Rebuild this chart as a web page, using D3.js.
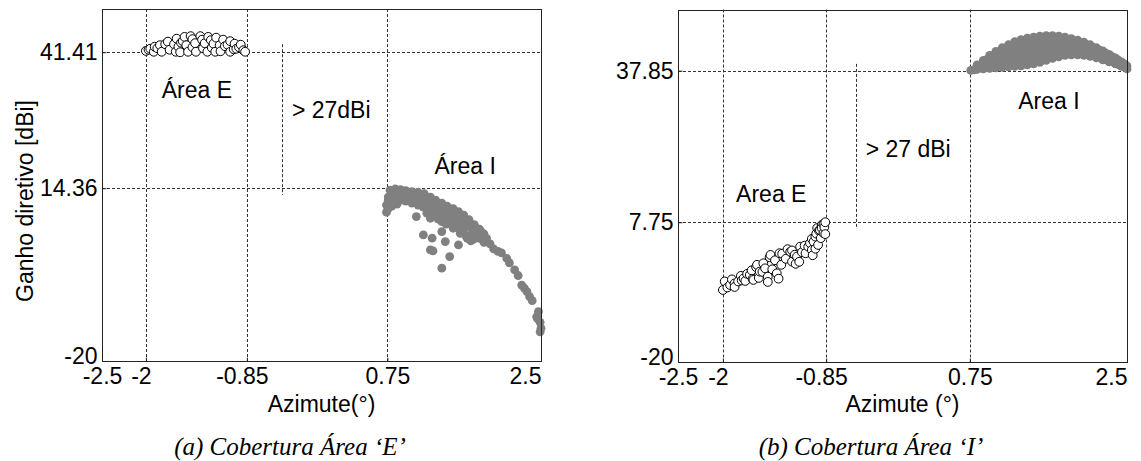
<!DOCTYPE html>
<html><head><meta charset="utf-8">
<script src="https://cdn.jsdelivr.net/npm/d3@7"></script>
<style>
body{margin:0;background:#fff}
svg{display:block}
text.sans{font-family:"Liberation Sans",Arial,Helvetica,sans-serif;fill:#000}
text.serif{font-family:"Liberation Serif","Times New Roman",serif;font-style:italic;fill:#000}
</style></head>
<body><svg id="c" width="1141" height="461"></svg>
<script>
// ---------- data ----------
const xDomain = [-2.5, 2.5];
const yDomain = [-20, 50];
const xTicks = [-2.5, -2, -0.85, 0.75, 2.5];
const xGrid = [-2, -0.85, 0.75];
const yTicksA = [-20, 14.36, 41.41];
const yTicksB = [-20, 7.75, 37.85];
const yGridA = [14.36, 41.41];
const yGridB = [7.75, 37.85];
// short dotted marker of the "> 27 dBi" gap: [x, yFrom, yTo]
const gapA = [-0.45, 13.0, 43.0];
const gapB = [-0.52, 6.4, 39.2];

// (a) Área E – open circles
const areaE_a = [
 [-2.00,41.67],[-1.97,41.9],[-1.95,42.1],[-1.91,41.5],[-1.90,42.5],[-1.87,42.2],[-1.84,42.8],[-1.82,41.5],
 [-1.78,43.0],[-1.75,43.5],[-1.73,41.9],[-1.68,43.0],[-1.66,41.5],[-1.65,44.1],[-1.63,42.5],[-1.61,41.4],
 [-1.60,43.3],[-1.58,43.6],[-1.56,44.45],[-1.54,42.8],[-1.52,41.5],[-1.49,44.6],[-1.47,44.0],[-1.47,42.4],
 [-1.44,43.2],[-1.43,41.5],[-1.38,44.6],[-1.36,43.9],[-1.35,42.2],[-1.33,43.2],[-1.30,41.5],[-1.29,44.45],
 [-1.26,43.8],[-1.25,42.3],[-1.23,43.1],[-1.21,41.5],[-1.20,44.3],[-1.16,42.8],[-1.15,41.6],[-1.12,43.9],
 [-1.10,42.6],[-1.07,42.9],[-1.04,41.5],[-1.04,43.6],[-1.00,42.0],[-0.99,43.1],[-0.97,42.1],[-0.94,42.4],
 [-0.92,42.9],[-0.89,41.8],[-0.87,41.5]
];
// (a) Área I – grey dots
const areaI_a = [
 [0.78,14.0],[0.84,14.2],[0.90,14.1],[0.96,13.9],[1.03,13.7],[1.10,13.6],[1.17,13.3],[1.24,12.6],[1.30,12.0],
 [1.37,11.4],[1.43,10.8],[1.50,10.3],[1.56,9.7],[1.62,9.0],[1.68,8.1],[1.74,7.1],[1.80,6.2],[1.85,5.3],
 [0.80,13.6],[0.86,13.8],[0.93,13.6],[1.00,13.3],[1.06,13.1],[1.13,12.8],[1.20,12.4],[1.27,11.9],[1.34,11.3],
 [1.41,10.6],[1.48,10.0],[1.55,9.3],[1.61,8.5],[1.68,7.6],[1.75,6.6],[1.82,5.7],
 [0.76,12.6],[0.81,13.2],[0.87,13.3],[0.93,13.1],[0.99,12.8],[1.05,12.5],[1.12,12.2],[1.18,11.8],[1.25,11.3],
 [1.32,10.7],[1.38,10.1],[1.45,9.5],[1.52,8.8],[1.58,8.0],[1.65,7.2],[1.72,6.3],[1.78,5.3],
 [0.76,11.9],[0.82,12.5],[0.88,12.7],[0.95,12.4],[1.01,12.1],[1.08,11.7],[1.14,11.3],[1.21,10.8],[1.28,10.2],
 [1.35,9.6],[1.42,9.0],[1.49,8.3],[1.57,7.4],[1.64,6.6],[1.72,5.6],[1.76,4.8],
 [0.74,11.0],[0.78,11.6],[0.84,12.0],[0.90,12.0],[0.96,11.8],[1.03,11.4],[1.10,11.0],[1.16,10.6],[1.23,10.0],
 [1.30,9.4],[1.38,8.7],[1.46,7.8],[1.54,6.9],[1.62,6.0],[1.70,5.0],
 [0.80,10.8],[0.86,11.2],[1.20,9.4],[1.27,8.9],[1.33,8.2],[1.42,7.2],[1.50,6.4],[1.58,5.4],[1.66,4.4],[1.73,4.2],[1.82,4.8],
 [0.74,9.6],[0.76,10.3],
 [1.08,8.72],[1.24,8.39],[1.37,7.72],[1.16,5.07],[1.26,4.42],[1.37,5.73],[1.24,2.09],[1.27,1.9],[1.41,3.74],
 [1.46,0.76],[1.37,-1.55],[1.56,3.09],[1.58,6.07],[1.65,4.74],[1.77,5.07],[1.70,3.9],
 [1.80,4.4],[1.85,3.6],[1.88,4.4],[1.92,3.3],[1.96,2.3],[2.01,1.8],[2.05,1.5],[2.11,0.4],[2.14,-0.5],[2.20,-1.9],
 [2.24,-3.0],[2.28,-4.9],[2.31,-5.5],[2.34,-6.2],[2.37,-7.2],[2.40,-8.0],[2.45,-11.2],[2.47,-10.2],[2.46,-11.6],
 [2.49,-12.3],[2.50,-13.5],[2.49,-14.2]
];
// (b) Área E – open circles
const areaE_b = [
 [-2.00,-5.7],[-1.98,-4.0],[-1.95,-5.2],[-1.92,-4.7],[-1.90,-3.6],[-1.87,-4.4],[-1.87,-5.1],[-1.83,-4.0],
 [-1.80,-2.9],[-1.79,-3.8],[-1.77,-3.4],[-1.75,-3.9],[-1.73,-2.5],[-1.70,-2.7],[-1.68,-1.8],[-1.67,-3.5],
 [-1.66,-3.7],[-1.63,-1.15],[-1.62,-0.7],[-1.60,-3.3],[-1.59,-2.05],[-1.56,-2.1],[-1.55,-0.4],[-1.53,-1.4],
 [-1.50,-3.05],[-1.50,-4.1],[-1.48,0.8],[-1.47,1.26],[-1.45,-1.6],[-1.42,0.2],[-1.40,-2.4],[-1.38,-3.45],
 [-1.37,1.6],[-1.35,-0.7],[-1.34,1.5],[-1.30,0.5],[-1.28,2.4],[-1.25,1.9],[-1.23,-0.07],[-1.23,2.15],
 [-1.20,1.3],[-1.19,-0.5],[-1.175,0.93],[-1.15,-0.1],[-1.14,2.9],[-1.12,1.8],[-1.09,3.1],[-1.08,1.6],
 [-1.05,2.9],[-1.03,3.6],[-1.01,2.25],[-1.01,4.45],[-1.00,1.2],[-0.99,3.9],[-0.97,2.5],[-0.97,4.9],
 [-0.96,5.5],[-0.95,6.6],[-0.94,3.25],[-0.93,6.1],[-0.92,6.2],[-0.91,4.6],[-0.90,7.2],[-0.90,6.6],
 [-0.88,5.6],[-0.88,7.4],[-0.87,6.8],[-0.86,5.4],[-0.86,7.75]
];
// (b) Área I – grey dots
const areaI_b = [
 [0.76,37.9],[0.83,39.0],[0.90,39.9],[0.97,40.9],[1.04,41.7],[1.11,42.4],[1.18,43.0],[1.25,43.6],[1.32,44.0],
 [1.39,44.3],[1.46,44.5],[1.53,44.7],[1.60,44.8],[1.67,44.8],[1.74,44.7],[1.81,44.5],[1.88,44.2],[1.95,43.9],
 [2.02,43.5],[2.09,43.0],[2.16,42.4],[2.23,41.8],[2.30,41.1],[2.37,40.4],[2.44,39.6],[2.50,38.8],
 [0.93,40.0],[1.00,40.8],[1.07,41.5],[1.14,42.2],[1.21,42.7],[1.28,43.2],[1.35,43.5],[1.42,43.7],[1.49,43.9],
 [1.56,44.1],[1.63,44.2],[1.70,44.2],[1.77,44.1],[1.84,43.9],[1.91,43.7],[1.98,43.4],[2.05,43.0],[2.12,42.5],
 [2.19,42.0],[2.26,41.4],[2.33,40.7],[2.40,40.0],[2.47,39.2],
 [0.90,39.3],[0.97,39.9],[1.04,40.5],[1.11,41.1],[1.18,41.6],[1.25,42.0],[1.32,42.4],[1.39,42.6],[1.46,42.8],
 [1.53,43.0],[1.60,43.2],[1.67,43.3],[1.74,43.3],[1.81,43.3],[1.88,43.1],[1.95,42.9],[2.02,42.6],[2.09,42.2],
 [2.16,41.6],[2.23,41.0],[2.30,40.4],[2.37,39.8],
 [0.86,38.6],[0.93,39.0],[1.00,39.7],[1.07,40.3],[1.14,40.7],[1.21,41.0],[1.28,41.3],[1.35,41.6],[1.42,41.8],
 [1.49,42.0],[1.56,42.2],[1.63,42.5],[1.70,42.7],[1.77,42.7],[1.84,42.7],[1.91,42.6],[1.98,42.3],[2.05,41.9],
 [2.12,41.4],[2.19,40.9],[2.26,40.4],[2.33,39.9],[2.40,39.3],[2.47,38.8],
 [0.97,39.1],[1.04,39.5],[1.11,39.8],[1.18,40.1],[1.25,40.4],[1.32,40.6],[1.39,40.8],[1.46,41.0],[1.53,41.3],
 [1.60,41.6],[1.67,41.8],[1.74,42.0],[1.81,42.0],[1.88,42.0],[1.95,42.0],
 [0.80,38.0],[0.87,38.4],[0.94,38.7],[1.01,38.9],[1.08,39.1],[1.15,39.3],[1.22,39.5],[1.29,39.7],[1.36,39.9],
 [1.43,40.1],[1.50,40.3],[1.57,40.6],[1.64,40.9],[1.71,41.2],[1.78,41.4],[1.85,41.5],[1.92,41.5],[1.99,41.5],
 [2.06,41.3],[2.13,41.0],[2.20,40.6],[2.27,40.1],[2.34,39.6],[2.41,39.0],[2.48,38.5],
 [0.83,38.1],[0.90,38.2],[0.97,38.3],[1.04,38.4],[1.11,38.5],[1.18,38.6],[1.25,38.7],[1.32,38.8],
 [1.39,39.0],[1.46,39.2],[1.53,39.5],[1.60,39.9],[1.67,40.3],[1.74,40.6],[1.81,40.9],[1.88,41.0],[1.95,41.0],
 [2.02,40.9],[2.09,40.7],[2.16,40.4],[2.23,40.0],[2.30,39.6],[2.37,39.2],[2.44,38.7],[2.50,38.2]
];
// annotations: [text, x, y]
const notesA = [["Área E",-1.82,33.95],["> 27dBi",-0.337,29.86],["Área I",1.287,18.8]];
const notesB = [["Area I",1.288,31.79],["> 27 dBi",-0.41,22.37],["Area E",-1.853,13.34]];

// ---------- drawing ----------
const svg = d3.select("#c");
const panels = [
 {l:102,r:541,t:9,b:361,yTicks:yTicksA,yGrid:yGridA,gap:gapA,open:areaE_a,filled:areaI_a,notes:notesA,
  xTitle:"Azimute(°)",caption:"(a) Cobertura Área ‘E’",capX:290,yTitle:"Ganho diretivo [dBi]"},
 {l:678,r:1127,t:9.5,b:362,yTicks:yTicksB,yGrid:yGridB,gap:gapB,open:areaE_b,filled:areaI_b,notes:notesB,
  xTitle:"Azimute (°)",caption:"(b) Cobertura Área ‘I’",capX:871,yTitle:null}
];

panels.forEach(p=>{
  const x = d3.scaleLinear().domain(xDomain).range([p.l,p.r]);
  const y = d3.scaleLinear().domain(yDomain).range([p.b,p.t]);
  const g = svg.append("g");
  const grid = g.append("g").attr("stroke","#333").attr("stroke-width",1).attr("stroke-dasharray","3,2").attr("fill","none");
  grid.selectAll(".vx").data(xGrid).join("line")
    .attr("x1",d=>Math.round(x(d))+0.5).attr("x2",d=>Math.round(x(d))+0.5).attr("y1",p.t).attr("y2",p.b);
  grid.selectAll(".hy").data(p.yGrid).join("line")
    .attr("y1",d=>Math.round(y(d))+0.5).attr("y2",d=>Math.round(y(d))+0.5).attr("x1",p.l).attr("x2",p.r);
  grid.append("line").attr("x1",Math.round(x(p.gap[0]))+0.5).attr("x2",Math.round(x(p.gap[0]))+0.5)
    .attr("y1",y(p.gap[2])).attr("y2",y(p.gap[1]));

  // data
  g.append("g").selectAll("circle").data(p.filled).join("circle")
    .attr("cx",d=>x(d[0])).attr("cy",d=>y(d[1])).attr("r",4.4).attr("fill","#808080");
  g.append("g").selectAll("circle").data(p.open).join("circle")
    .attr("cx",d=>x(d[0])).attr("cy",d=>y(d[1])).attr("r",4.4)
    .attr("fill","#fff").attr("stroke","#000").attr("stroke-width",1);

  // frame
  g.append("rect").attr("x",p.l+0.5).attr("y",Math.round(p.t)+0.5).attr("width",p.r-p.l).attr("height",Math.round(p.b)-Math.round(p.t))
    .attr("fill","none").attr("stroke","#222").attr("stroke-width",1);

  // axes
  const ax = g.append("g").attr("transform",`translate(0,${Math.round(p.b)+0.5})`)
    .call(d3.axisBottom(x).tickValues(xTicks).tickSize(-4).tickPadding(6).tickFormat(d=>String(d)));
  const ay = g.append("g").attr("transform",`translate(${p.l+0.5},0)`)
    .call(d3.axisLeft(y).tickValues(p.yTicks).tickSize(-4).tickPadding(5).tickFormat(d=>String(d)));
  [ax,ay].forEach(a=>{
    a.select(".domain").remove();
    a.selectAll(".tick line").attr("stroke","#222");
    a.selectAll("text").attr("class","sans").attr("font-size",23).attr("font-family",null);
  });
  ax.selectAll(".tick text").filter(d=>d===xTicks[xTicks.length-1]).attr("text-anchor","end").attr("x",0);
  ax.selectAll(".tick text").filter(d=>d<0 && d>xTicks[0]).attr("x",-5);
  ay.selectAll(".tick text").filter(d=>d===yDomain[0]).attr("dy","0.12em");

  // annotations
  g.append("g").selectAll("text").data(p.notes).join("text").attr("class","sans")
    .attr("x",d=>x(d[1])).attr("y",d=>y(d[2])).attr("dy","0.35em").attr("font-size",23).text(d=>d[0]);

  // titles
  g.append("text").attr("class","sans").attr("x",(p.l+p.r)/2).attr("y",412).attr("text-anchor","middle").attr("font-size",23).text(p.xTitle);
  if(p.yTitle) g.append("text").attr("class","sans").attr("transform","translate(33,201) rotate(-90)").attr("text-anchor","middle")
    .attr("font-size",23).text(p.yTitle);
  g.append("text").attr("class","serif").attr("x",p.capX).attr("y",455).attr("text-anchor","middle")
    .attr("font-size",25).text(p.caption);
});
</script></body></html>
